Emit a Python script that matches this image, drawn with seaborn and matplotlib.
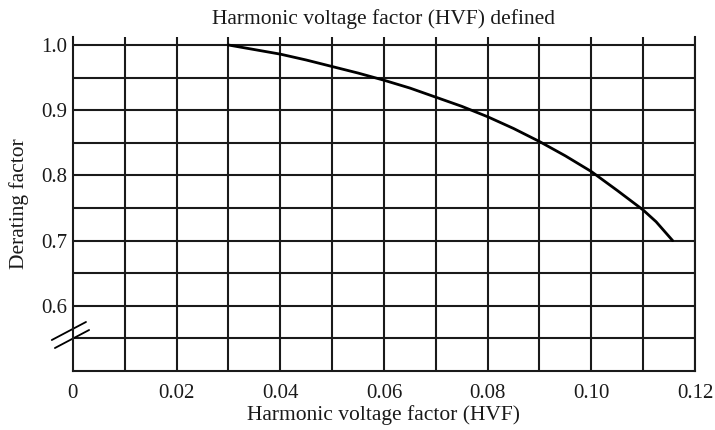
import matplotlib
matplotlib.use("Agg")
import matplotlib.pyplot as plt
import seaborn as sns
import pandas as pd

# Derating factor versus harmonic voltage factor
hvf = [0.03, 0.035, 0.04, 0.045, 0.05, 0.055, 0.06, 0.065, 0.07, 0.075,
       0.08, 0.085, 0.09, 0.095, 0.10, 0.105, 0.11, 0.1125, 0.1157]
derating = [1.0, 0.993, 0.986, 0.977, 0.967, 0.957, 0.946, 0.934, 0.920, 0.906,
            0.890, 0.872, 0.852, 0.830, 0.806, 0.777, 0.747, 0.729, 0.70]

x_ticks = [0, 0.02, 0.04, 0.06, 0.08, 0.10, 0.12]
x_tick_labels = ["0", "0.02", "0.04", "0.06", "0.08", "0.10", "0.12"]
y_ticks = [0.6, 0.7, 0.8, 0.9, 1.0]
y_tick_labels = ["0.6", "0.7", "0.8", "0.9", "1.0"]

sns.set_style("white")
plt.rcParams["font.family"] = ["Liberation Serif", "DejaVu Serif"]

df = pd.DataFrame({"hvf": hvf, "derating": derating})

fig = plt.figure(figsize=(7.15, 4.3), dpi=100)
ax = fig.add_axes([0.102, 0.137, 0.870, 0.777])

# grid of lines every 0.01 in x and 0.05 in y
for gx in [i * 0.01 for i in range(1, 13)]:
    ax.axvline(gx, color="#1a1a1a", lw=1.5, zorder=1)
for gy in [0.55 + i * 0.05 for i in range(10)]:
    ax.axhline(gy, color="#1a1a1a", lw=1.5, zorder=1)

sns.lineplot(data=df, x="hvf", y="derating", color="black", lw=2.0, ax=ax, zorder=3)

ax.set_xlim(0, 0.12)
ax.set_ylim(0.5, 1.0123)
ax.set_xticks(x_ticks)
ax.set_xticklabels(x_tick_labels)
ax.set_yticks(y_ticks)
ax.set_yticklabels(y_tick_labels)
ax.tick_params(axis="both", length=0, labelsize=15, colors="#1a1a1a")
ax.tick_params(axis="x", pad=9)
ax.tick_params(axis="y", pad=4)

ax.spines["top"].set_visible(False)
for side in ["left", "bottom", "right"]:
    ax.spines[side].set_color("#1a1a1a")
    ax.spines[side].set_linewidth(1.5)

ax.set_xlabel("Harmonic voltage factor (HVF)", fontsize=15.5, color="#1a1a1a", labelpad=2)
ax.set_ylabel("Derating factor", fontsize=15.5, color="#1a1a1a", labelpad=9)
ax.set_title("Harmonic voltage factor (HVF) defined", fontsize=15.5, color="#1a1a1a", pad=9)

# axis break marks on the y axis
ax.plot([-0.034, 0.021], [0.093, 0.147], transform=ax.transAxes, color="black", lw=1.3, clip_on=False)
ax.plot([-0.029, 0.026], [0.069, 0.123], transform=ax.transAxes, color="black", lw=1.3, clip_on=False)

fig.savefig("out.png", dpi=100)
